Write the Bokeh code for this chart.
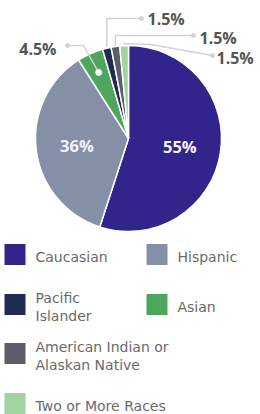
import numpy as np
from bokeh.plotting import figure
from bokeh.models import ColumnDataSource, Range1d
from bokeh.core.properties import value
from bokeh.embed import file_html
from bokeh.resources import INLINE

# ---- data ----
categories = ["Caucasian", "Hispanic", "Asian", "Pacific Islander",
              "American Indian or Alaskan Native", "Two or More Races"]
shares = [55, 36, 4.5, 1.5, 1.5, 1.5]
labels = ["55%", "36%", "4.5%", "1.5%", "1.5%", "1.5%"]
colors = ["#31248a", "#8590a6", "#4ea65e", "#1f2b50", "#5b5e66", "#a2d2a0"]

legend_order = ["Caucasian", "Hispanic", "Pacific Islander", "Asian",
                "American Indian or Alaskan Native", "Two or More Races"]
legend_texts = ["Caucasian", "Hispanic", "Pacific\nIslander", "Asian",
                "American Indian or\nAlaskan Native", "Two or More Races"]

W, H = 260, 414
def X(xo):
    return xo
def Y(yo):
    return H - yo

p = figure(width=W, height=H, output_backend="svg", toolbar_location=None,
           x_range=Range1d(0, W), y_range=Range1d(0, H),
           min_border=0, min_border_left=0, min_border_right=0,
           min_border_top=0, min_border_bottom=0)
p.axis.visible = False
p.grid.visible = False
p.outline_line_color = None
p.background_fill_color = "white"

# ---- pie ----
cx, cy, R = X(128), Y(138), 93
frac = np.array(shares, dtype=float) / sum(shares)
cum = np.concatenate([[0], np.cumsum(frac)])
start = np.pi / 2 - 2 * np.pi * cum[:-1]
end = np.pi / 2 - 2 * np.pi * cum[1:]
mid = (start + end) / 2
src = ColumnDataSource(dict(start=start, end=end, color=colors, cat=categories))
p.wedge(x=cx, y=cy, radius=R, start_angle="start", end_angle="end",
        direction="clock", fill_color="color", line_color="white",
        line_width=1.5, source=src)

# inner labels for the two large slices
lr = 52
p.text(x=[cx + lr * np.cos(mid[i]) for i in range(2)],
       y=[cy + lr * np.sin(mid[i]) for i in range(2)],
       text=labels[:2], text_color="#f4f2f8", text_font=value("Open Sans"),
       text_font_style="bold", text_font_size="16.5px",
       text_align="center", text_baseline="middle")

# ---- leaders for the small slices ----
lc = "#d2d2d2"
tc = "#555555"
fs = "16px"
# Asian (index 2)
ax_ = cx + 0.78 * R * np.cos(mid[2]); ay_ = cy + 0.78 * R * np.sin(mid[2])
p.line([ax_, X(83), X(67)], [ay_, Y(45), Y(45)], line_color=lc, line_width=1.5)
p.scatter([X(67)], [Y(45)], size=4, color=lc)
p.scatter([ax_], [ay_], size=6, color="white")
p.text([X(56)], [Y(48)], text=[labels[2]], text_color=tc,
       text_font=value("Open Sans"), text_font_style="bold",
       text_font_size=fs, text_align="right", text_baseline="middle")

# Pacific Islander (index 3)
px_ = cx + R * np.cos(mid[3]); py_ = cy + R * np.sin(mid[3])
p.line([px_, px_, X(141)], [py_ + 1, Y(18), Y(18)], line_color=lc, line_width=1.5)
p.scatter([X(141)], [Y(18)], size=4, color=lc)
p.text([X(147)], [Y(18)], text=[labels[3]], text_color=tc,
       text_font=value("Open Sans"), text_font_style="bold",
       text_font_size=fs, text_align="left", text_baseline="middle")

# American Indian (index 4)
qx_ = cx + R * np.cos(mid[4]); qy_ = cy + R * np.sin(mid[4])
p.line([qx_, qx_, X(193)], [qy_ + 1, Y(35), Y(35)], line_color=lc, line_width=1.5)
p.scatter([X(193)], [Y(35)], size=4, color=lc)
p.text([X(199)], [Y(37)], text=[labels[4]], text_color=tc,
       text_font=value("Open Sans"), text_font_style="bold",
       text_font_size=fs, text_align="left", text_baseline="middle")

# Two or More (index 5)
tx_ = cx + R * np.cos(mid[5]); ty_ = cy + R * np.sin(mid[5])
p.line([tx_, tx_, X(150), X(212)], [ty_ + 1, Y(43), Y(44), Y(55)],
       line_color=lc, line_width=1.5)
p.scatter([X(212)], [Y(55)], size=4, color=lc)
p.text([X(216)], [Y(57)], text=[labels[5]], text_color=tc,
       text_font=value("Open Sans"), text_font_style="bold",
       text_font_size=fs, text_align="left", text_baseline="middle")

# ---- legend ----
col_color = {c: col for c, col in zip(categories, colors)}
row_y = [Y(254), Y(254), Y(304), Y(304), Y(353), Y(403)]
left_col = [True, False, True, False, True, True]
sq_x = [X(4) + 10.5 if lc_ else X(146) + 10.5 for lc_ in left_col]
txt_x = [X(35) if lc_ else X(177) for lc_ in left_col]
p.rect(x=sq_x, y=row_y, width=21, height=21,
       fill_color=[col_color[c] for c in legend_order], line_color=None)

line_gap = 18
lx, ly, lt = [], [], []
for x0, y0, t in zip(txt_x, row_y, legend_texts):
    parts = t.split("\n")
    n = len(parts)
    for k, part in enumerate(parts):
        lx.append(x0)
        ly.append(y0 - 2 - (k - (n - 1) / 2) * line_gap)
        lt.append(part)
p.text(x=lx, y=ly, text=lt, text_color="#6a6a6a",
       text_font=value("DejaVu Sans"), text_font_size="14px",
       text_align="left", text_baseline="middle")

open("out.html", "w").write(file_html(p, INLINE))
